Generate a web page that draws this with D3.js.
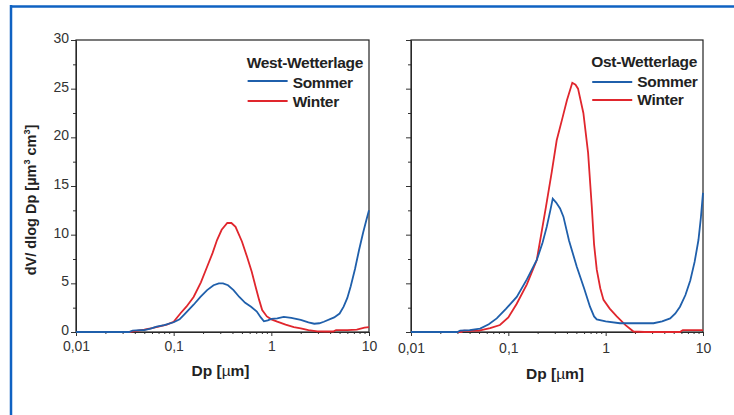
<!DOCTYPE html>
<html>
<head>
<meta charset="utf-8">
<script src="https://cdn.jsdelivr.net/npm/d3@7"></script>
<style>
  body { margin: 0; background: #fff; }
  svg { display: block; font-family: "Liberation Sans", Arial, sans-serif; }
</style>
</head>
<body>
<div id="chart"></div>
<script>
// tick values and labels
const xTicks = [0.01, 0.1, 1, 10];
const xTickLabels = ["0,01", "0,1", "1", "10"];
const yTicks = [0, 5, 10, 15, 20, 25, 30];
const seriesNames = ["Sommer", "Winter"];
const panelTitles = ["West-Wetterlage", "Ost-Wetterlage"];

// [Dp in µm, dV/dlogDp]
const westSommer = [[0.01,0],[0.02,0],[0.035,0],[0.038,0.15],[0.045,0.2],[0.05,0.2],[0.058,0.35],[0.067,0.55],
  [0.08,0.7],[0.1,1.0],[0.115,1.3],[0.131,1.9],[0.16,2.8],[0.188,3.6],[0.22,4.3],[0.256,4.8],[0.29,5.0],
  [0.32,5.0],[0.36,4.8],[0.41,4.3],[0.47,3.6],[0.54,3.0],[0.62,2.6],[0.71,2.1],[0.78,1.5],[0.84,1.1],
  [0.92,1.2],[1.0,1.35],[1.15,1.4],[1.34,1.55],[1.6,1.45],[2.0,1.25],[2.4,1.0],[2.75,0.85],[3.1,0.9],
  [3.45,1.05],[4.4,1.5],[5.0,1.9],[5.5,2.6],[6.0,3.5],[6.5,4.7],[7.2,6.5],[7.9,8.4],[8.7,10.2],[9.4,11.5],[10,12.5]];
const westWinter = [[0.01,0],[0.035,0],[0.04,0.1],[0.05,0.25],[0.06,0.4],[0.07,0.55],[0.085,0.75],[0.1,1.05],
  [0.117,1.9],[0.135,2.6],[0.16,3.6],[0.19,5.1],[0.22,6.7],[0.25,8.1],[0.278,9.45],[0.31,10.5],[0.354,11.2],
  [0.39,11.2],[0.43,10.8],[0.5,9.3],[0.565,7.7],[0.63,6.2],[0.688,4.7],[0.75,3.3],[0.806,2.26],[0.9,1.6],
  [1.0,1.3],[1.15,1.06],[1.4,0.75],[1.7,0.5],[2.0,0.38],[2.4,0.2],[2.96,0.07],[3.5,0.05],[4.3,0.05],
  [4.6,0.2],[6,0.2],[7.5,0.25],[9,0.45],[10,0.5]];
const ostSommer = [[0.01,0],[0.03,0],[0.032,0.15],[0.04,0.2],[0.0513,0.35],[0.063,0.8],[0.076,1.4],[0.095,2.4],
  [0.122,3.6],[0.155,5.4],[0.196,7.4],[0.225,9.2],[0.248,10.8],[0.27,12.5],[0.286,13.7],[0.31,13.3],
  [0.34,12.7],[0.368,11.85],[0.42,9.4],[0.505,6.7],[0.6,4.5],[0.69,2.6],[0.76,1.6],[0.81,1.3],[1.0,1.1],
  [1.4,0.9],[2.0,0.9],[3.1,0.9],[3.8,1.1],[4.6,1.4],[5.2,1.9],[5.8,2.6],[6.6,3.8],[7.4,5.3],[8.2,7.2],
  [8.98,9.45],[9.5,11.7],[10,14.3]];
const ostWinter = [[0.01,0],[0.033,0],[0.035,0.15],[0.04,0.12],[0.05,0.15],[0.065,0.4],[0.082,0.72],[0.1,1.5],
  [0.122,2.9],[0.155,4.9],[0.196,7.4],[0.244,12.9],[0.28,16.5],[0.314,19.7],[0.36,22],[0.4,23.8],
  [0.454,25.6],[0.49,25.4],[0.52,25.0],[0.59,22.5],[0.66,18.4],[0.72,12.9],[0.76,9],[0.81,6.4],[0.88,4.5],
  [0.95,3.3],[1.1,2.4],[1.3,1.6],[1.6,0.7],[1.93,0.05],[2.5,0],[5.8,0],[6.2,0.2],[10,0.2]];

const colors = { Sommer: "#1f5fab", Winter: "#e0262d" };
const width = 734, height = 415;
const plotTop = 40, plotBottom = 332;

const panels = [
  { title: panelTitles[0], left: 76, right: 369, sommer: westSommer, winter: westWinter, yLabels: true, labelDy: 1, xlabY: 376, legTitleY: 68, legY: [81, 101], legTextY: [88, 107] },
  { title: panelTitles[1], left: 411, right: 703, sommer: ostSommer, winter: ostWinter, yLabels: false, labelDy: 3, xlabY: 379, legTitleY: 67, legY: [82, 100], legTextY: [87, 105] }
];

const svg = d3.select("#chart").append("svg")
  .attr("width", width).attr("height", height);

svg.append("rect").attr("width", width).attr("height", height).attr("fill", "#fff");

// blue frame (top and left edges are visible)
svg.append("line").attr("x1", 10).attr("x2", width).attr("y1", 6.5).attr("y2", 6.5)
  .attr("stroke", "#0f62c2").attr("stroke-width", 2.5);
svg.append("line").attr("x1", 11).attr("x2", 11).attr("y1", 5).attr("y2", height)
  .attr("stroke", "#0f62c2").attr("stroke-width", 2.5);

const minorX = [];
[0.01, 0.1, 1].forEach(dec => { for (let k = 2; k <= 9; k++) minorX.push(dec * k); });
const minorY = [2.5, 7.5, 12.5, 17.5, 22.5, 27.5];

panels.forEach(p => {
  const x = d3.scaleLog().domain([0.01, 10]).range([p.left, p.right]);
  const y = d3.scaleLinear().domain([0, 30]).range([plotBottom, plotTop]);
  const g = svg.append("g");

  // x axis
  const gx = g.append("g").attr("transform", `translate(0,${plotBottom})`)
    .call(d3.axisBottom(x).tickValues(xTicks).tickFormat((d, i) => xTickLabels[i]).tickSize(4).tickSizeOuter(0));
  g.append("g").attr("transform", `translate(0,${plotBottom})`)
    .call(d3.axisBottom(x).tickValues(minorX).tickFormat("").tickSize(2).tickSizeOuter(0))
    .call(a => a.select(".domain").remove());
  gx.selectAll("text").attr("font-size", 14).attr("fill", "#333").attr("dy", "0.9em").attr("y", 5 + p.labelDy)
    .attr("font-family", "Liberation Sans, Arial, sans-serif");

  // y axis
  const gy = g.append("g").attr("transform", `translate(${p.left},0)`)
    .call(d3.axisLeft(y).tickValues(yTicks).tickSize(5).tickSizeOuter(0)
      .tickFormat(p.yLabels ? d3.format("d") : ""));
  g.append("g").attr("transform", `translate(${p.left},0)`)
    .call(d3.axisLeft(y).tickValues(minorY).tickFormat("").tickSize(3).tickSizeOuter(0))
    .call(a => a.select(".domain").remove());
  gy.selectAll("text").attr("font-size", 14).attr("fill", "#333").attr("x", -7).attr("y", -2)
    .attr("font-family", "Liberation Sans, Arial, sans-serif");

  g.selectAll(".tick line").attr("stroke", "#333");
  g.selectAll(".domain").attr("stroke", "#333");

  // plot frame
  g.append("rect").attr("x", p.left).attr("y", plotTop)
    .attr("width", p.right - p.left).attr("height", plotBottom - plotTop)
    .attr("fill", "none").attr("stroke", "#222").attr("stroke-width", 1.2);

  // curves
  const line = d3.line().x(d => x(d[0])).y(d => y(d[1]));
  g.append("path").datum(p.winter).attr("d", line)
    .attr("fill", "none").attr("stroke", colors.Winter).attr("stroke-width", 1.8);
  g.append("path").datum(p.sommer).attr("d", line)
    .attr("fill", "none").attr("stroke", colors.Sommer).attr("stroke-width", 1.8);

  // x label
  const xl = g.append("text").attr("x", (p.left + p.right) / 2 - 2).attr("y", p.xlabY)
    .attr("text-anchor", "middle").attr("font-size", 15.5).attr("font-weight", "bold").attr("fill", "#222");
  xl.append("tspan").text("Dp [");
  xl.append("tspan").attr("font-weight", "normal").text("µ");
  xl.append("tspan").text("m]");

  // legend
  const title = g.append("text").attr("x", p.right - 6).attr("y", p.legTitleY)
    .attr("text-anchor", "end").attr("font-size", 15.5).attr("font-weight", "bold")
    .attr("letter-spacing", "-0.3").attr("fill", "#222").text(p.title);
  const tx = title.node().getBBox().x;
  seriesNames.forEach((name, i) => {
    g.append("line").attr("x1", tx + 1).attr("x2", tx + 41)
      .attr("y1", p.legY[i]).attr("y2", p.legY[i])
      .attr("stroke", colors[name]).attr("stroke-width", 1.8);
    g.append("text").attr("x", tx + 46).attr("y", p.legTextY[i])
      .attr("font-size", 15.5).attr("font-weight", "bold").attr("letter-spacing", "-0.3")
      .attr("fill", "#222").text(name);
  });
});

// y axis label
const yl = svg.append("text").attr("transform", "translate(36,200) rotate(-90)")
  .attr("text-anchor", "middle").attr("font-size", 14.5).attr("font-weight", "bold").attr("fill", "#222");
yl.append("tspan").text("dV/ dlog Dp [µm");
yl.append("tspan").attr("font-size", 9).attr("dy", -6).text("3");
yl.append("tspan").attr("dy", 6).text(" cm");
yl.append("tspan").attr("font-size", 9).attr("dy", -6).text("3");
yl.append("tspan").attr("dy", 6).text("]");
</script>
</body>
</html>
